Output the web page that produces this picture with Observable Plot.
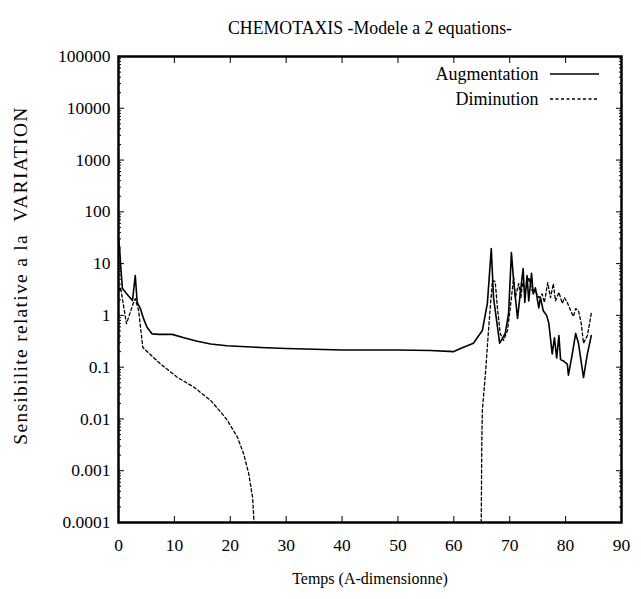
<!DOCTYPE html>
<html><head><meta charset="utf-8">
<script src="https://cdn.jsdelivr.net/npm/d3@7"></script>
<script src="https://cdn.jsdelivr.net/npm/@observablehq/plot@0.6"></script>
<style>body{margin:0;background:#fff}</style>
</head><body><div id="chart"></div>
<script>
const titleText = "CHEMOTAXIS -Modele a 2 equations-";
const xLabelText = "Temps (A-dimensionne)";
const yLabelText = "Sensibilite relative a la\u00a0\u00a0VARIATION";
const seriesNames = ["Augmentation", "Diminution"];

const xTicks = [0, 10, 20, 30, 40, 50, 60, 70, 80, 90];
const yTicks = [1e-4, 1e-3, 1e-2, 1e-1, 1, 10, 100, 1000, 10000, 100000];
const yTickLabels = ["0.0001", "0.001", "0.01", "0.1", "1", "10", "100", "1000", "10000", "100000"];

// Augmentation (solid)
const augT = [0, 0.2, 0.36, 0.7, 1.5, 2.5, 3.0, 3.34, 3.94, 4.5, 5.1, 6.0, 7.2, 9.6, 11.7, 14.1, 16.5, 19.4, 25.4, 30, 40, 50, 55.8, 60,
  61.2, 63.5, 65.1, 66.0, 66.7, 67.1, 68.2, 69.2, 69.8, 70.3, 70.7, 71.4, 71.8, 72.4, 72.7, 73.1, 73.4, 73.9, 74.2, 74.6, 75.2, 75.5,
  76.0, 76.6, 77.0, 77.6, 78.0, 78.4, 78.8, 79.1, 79.7, 80.3, 80.5, 81.2, 81.8, 82.3, 83.2, 83.9, 84.6];
const augV = [30, 20, 10, 3.3, 2.6, 1.93, 5.9, 1.79, 1.33, 0.855, 0.59, 0.44, 0.43, 0.43, 0.37, 0.316, 0.28, 0.26, 0.24, 0.23, 0.215, 0.215, 0.21, 0.2,
  0.23, 0.29, 0.51, 1.7, 19.5, 2.2, 0.29, 0.45, 1.1, 16.3, 4.7, 0.87, 2.2, 8, 1.77, 5.9, 1.9, 6.5, 2.6, 3.4, 1.4, 2.2,
  1.23, 1.0, 0.7, 0.18, 0.37, 0.15, 0.41, 0.14, 0.13, 0.115, 0.07, 0.18, 0.45, 0.29, 0.063, 0.18, 0.41];

// Diminution (dashed), first branch
const dimT1 = [0, 0.36, 1.43, 2.6, 3.0, 3.6, 4.35, 7.5, 10.5, 13.5, 16.5, 18.8, 19.5, 21.3, 22.4, 23.3, 24.0, 24.25];
const dimV1 = [3.0, 3.5, 0.69, 1.67, 2.1, 1.24, 0.24, 0.116, 0.064, 0.041, 0.0227, 0.0117, 0.0093, 0.0044, 0.0021, 0.00088, 0.0003, 0.0001];
// Diminution (dashed), second branch
const dimT2 = [64.9, 65.0, 65.1, 65.7, 66.2, 66.9, 67.4, 67.8, 68.3, 68.9, 69.6, 70.1, 70.7, 71.0, 71.6, 72.0, 72.3, 72.8, 73.4, 74.0,
  74.6, 75.2, 75.8, 76.2, 76.8, 77.3, 77.8, 78.2, 78.8, 79.4, 79.8, 80.3, 80.9, 81.4, 81.8, 82.3, 82.8, 83.2, 83.9, 84.6];
const dimV2 = [0.0001, 0.003, 0.0146, 0.086, 0.51, 4.7, 4.5, 1.4, 0.45, 0.33, 0.51, 1.4, 5.4, 2.2, 4.1, 2.2, 4.3, 3.0, 5.4, 3.0,
  3.0, 2.2, 2.6, 1.77, 4.3, 2.2, 4.1, 1.9, 2.8, 1.7, 2.2, 1.77, 1.23, 0.95, 1.35, 1.23, 0.7, 0.29, 0.41, 1.1];

const aug = augT.map((t, i) => ({t, v: augV[i]}));
const dim1 = dimT1.map((t, i) => ({t, v: dimV1[i]}));
const dim2 = dimT2.map((t, i) => ({t, v: dimV2[i]}));
const yMinor = yTicks.slice(0, -1).flatMap(d => [2,3,4,5,6,7,8,9].map(k => d * k));

const FONT = "'Liberation Serif', 'Times New Roman', serif";
const DASH = "3,2.5";

const plot = Plot.plot({
  width: 641, height: 599,
  marginLeft: 118, marginRight: 20, marginTop: 56, marginBottom: 77,
  style: {fontFamily: FONT, fontSize: "17px", background: "white", color: "black"},
  x: {domain: [0, 90]},
  y: {type: "log", domain: [1e-4, 1e5]},
  marks: [
    Plot.axisX({anchor: "bottom", ticks: xTicks, tickSize: -6, tickPadding: 22, label: null, fontSize: 17.5}),
    Plot.axisX({anchor: "top", ticks: xTicks, tickSize: -6, tickFormat: () => "", label: null}),
    Plot.axisY({anchor: "left", ticks: yTicks, tickSize: -6, tickPadding: 14, tickFormat: (d) => yTickLabels[yTicks.indexOf(d)], label: null, fontSize: 17.5}),
    Plot.axisY({anchor: "right", ticks: yTicks, tickSize: -6, tickFormat: () => "", label: null}),
    Plot.axisY({anchor: "left", ticks: yMinor, tickSize: -3, tickFormat: () => "", label: null}),
    Plot.axisY({anchor: "right", ticks: yMinor, tickSize: -3, tickFormat: () => "", label: null}),
    Plot.line(aug, {x: "t", y: "v", stroke: "black", strokeWidth: 1.6}),
    Plot.line(dim1, {x: "t", y: "v", stroke: "black", strokeWidth: 1.3, strokeDasharray: DASH}),
    Plot.line(dim2, {x: "t", y: "v", stroke: "black", strokeWidth: 1.3, strokeDasharray: DASH}),
    Plot.frame({stroke: "black", strokeWidth: 2.5}),
    Plot.text([titleText], {frameAnchor: "top", dy: -28, lineAnchor: "middle", fontSize: 17.8, fill: "black"}),
    Plot.text([xLabelText], {frameAnchor: "bottom", dy: 56, lineAnchor: "middle", fontSize: 16, fill: "black"}),
    Plot.text([yLabelText], {frameAnchor: "left", dx: -98, dy: -14, rotate: -90, textAnchor: "middle", lineAnchor: "middle", fontSize: 19.5, fill: "black"}),
    Plot.text([seriesNames[0]], {frameAnchor: "top-right", dx: -83, dy: 18, textAnchor: "end", lineAnchor: "middle", fontSize: 18, fill: "black"}),
    Plot.text([seriesNames[1]], {frameAnchor: "top-right", dx: -83, dy: 43, textAnchor: "end", lineAnchor: "middle", fontSize: 18, fill: "black"})
  ]
});
document.getElementById("chart").append(plot);

// y label letter spacing (Plot has no letterSpacing channel)
d3.select(plot).selectAll("text").filter(function() { return this.textContent === yLabelText; })
  .attr("letter-spacing", "1.3px");

// legend line samples
const svg = d3.select(plot);
const fr = {right: 641 - 20, top: 56};
[[0, null], [1, DASH]].forEach(([i, dash]) => {
  const l = svg.append("line")
    .attr("x1", fr.right - 71).attr("x2", fr.right - 22)
    .attr("y1", fr.top + 18 + i * 25).attr("y2", fr.top + 18 + i * 25)
    .attr("stroke", "black").attr("stroke-width", i ? 1.3 : 1.6);
  if (dash) l.attr("stroke-dasharray", dash);
});
</script>
</body></html>
